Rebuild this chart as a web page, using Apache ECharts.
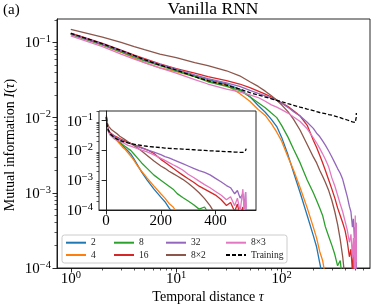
<!DOCTYPE html>
<html><head><meta charset="utf-8">
<script src="https://cdn.jsdelivr.net/npm/echarts@6/dist/echarts.min.js"></script>
<style>html,body{margin:0;padding:0;background:#fff}#c{width:374px;height:308px}</style>
</head><body><div id="c"></div>
<script>
// temporal distance tau (shared sampling)
const tau = [1,2,3,4,5,7,10,15,20,30,40,50,60,70,80,90,100,115,130,150,175,200,215,230,245,260,280,300,320,340,360,380,400,420,440,455,470,480,490,500,505,510,512];

// mutual information I(tau) per model
const mi2 = [0.130,0.094,0.076,0.065,0.058,0.050,0.043,0.036,0.032,0.028,0.024,0.019,0.0145,0.0118,0.0095,0.0076,0.0055,0.0032,0.00186,0.0010,0.00050,0.00027,0.00019,0.000117,0.000076];
const mi4 = [0.128,0.092,0.074,0.062,0.054,0.046,0.041,0.035,0.031,0.027,0.021,0.0165,0.0128,0.0107,0.0083,0.0064,0.0049,0.0030,0.0020,0.00117,0.00063,0.00035,0.00025,0.000166,0.000126,0.000079];
const mi8 = [0.128,0.093,0.075,0.064,0.057,0.049,0.042,0.035,0.030,0.026,0.023,0.019,0.0158,0.0135,0.0115,0.0100,0.0079,0.0055,0.0038,0.0025,0.00148,0.0010,0.00079,0.00063,0.00050,0.000355,0.000263,0.00020,0.000151,0.000107,0.000126,0.000063];
const mi16 = [0.133,0.097,0.079,0.068,0.061,0.052,0.045,0.039,0.035,0.031,0.028,0.025,0.0225,0.0205,0.0188,0.0172,0.0158,0.0140,0.0123,0.0105,0.0079,0.0050,0.0040,0.00316,0.00251,0.0020,0.00148,0.00112,0.00085,0.00063,0.00050,0.00040,0.000316,0.000224,0.000141,0.000178,0.000089,0.000158,0.000063,0.000126,0.00005];
const mi32 = [0.130,0.095,0.077,0.066,0.059,0.051,0.044,0.037,0.033,0.029,0.026,0.023,0.021,0.0195,0.0182,0.0170,0.0155,0.0137,0.0120,0.0105,0.0087,0.0072,0.0062,0.0056,0.0049,0.0043,0.0036,0.0030,0.0025,0.0021,0.00182,0.00151,0.00115,0.00089,0.00066,0.00056,0.00035,0.00045,0.00025,0.00035,0.00013,0.00040,0.00007];
const mi8x2 = [0.149,0.118,0.100,0.088,0.080,0.070,0.063,0.054,0.049,0.042,0.036,0.030,0.026,0.0225,0.0195,0.0170,0.0148,0.0120,0.0095,0.0068,0.0044,0.0030,0.0025,0.0020,0.00166,0.00138,0.00107,0.00079,0.00056,0.00038,0.00024,0.000141,0.00007];
const mi8x3 = [0.122,0.088,0.070,0.060,0.054,0.046,0.039,0.032,0.028,0.024,0.022,0.020,0.0185,0.0165,0.0148,0.0138,0.0128,0.0115,0.0102,0.0089,0.0071,0.0054,0.0046,0.0039,0.0033,0.0028,0.0022,0.00158,0.00123,0.00093,0.00071,0.00056,0.00042,0.00032,0.00022,0.00028,0.00014,0.00025,0.00009,0.00050,0.00008,0.00040,0.00012];
const miTraining = [0.132,0.096,0.078,0.067,0.059,0.050,0.043,0.035,0.031,0.027,0.024,0.0215,0.0200,0.0188,0.0178,0.0169,0.0163,0.0153,0.0146,0.0138,0.0130,0.0124,0.0120,0.0117,0.0115,0.0113,0.0110,0.0108,0.0105,0.0102,0.0100,0.0097,0.0095,0.0093,0.0091,0.0090,0.0088,0.0087,0.0086,0.0086,0.0088,0.0100,0.0115];

const seriesNames = ['2','4','8','16','32','8\u00d72','8\u00d73','Training'];

// tick values
const xMajorTicks = [1,10,100];
const xMinorTicks = [2,3,4,5,6,7,8,9,20,30,40,50,60,70,80,90,200,300,400,500,600];
const yMajorTicks = [1e-4,1e-3,1e-2,1e-1];
const yMinorTicks = [2e-4,3e-4,4e-4,5e-4,6e-4,7e-4,8e-4,9e-4,2e-3,3e-3,4e-3,5e-3,6e-3,7e-3,8e-3,9e-3,2e-2,3e-2,4e-2,5e-2,6e-2,7e-2,8e-2,9e-2,2e-1];
const insetXTicks = [0,200,400];

const FONT = '"Liberation Serif", "DejaVu Serif", serif';
const colors = ['#1f77b4','#ff7f0e','#2ca02c','#d62728','#9467bd','#8c564b','#e377c2','#000000'];
const allVals = [mi2, mi4, mi8, mi16, mi32, mi8x2, mi8x3, miTraining];

function pairs(vals){ return vals.map((v,i)=>[tau[i], v]); }
function powLabel(v){
  const e = Math.round(Math.log10(v));
  return '{b|10}{s|' + (e < 0 ? '\u2212' : '') + Math.abs(e) + '}';
}
const richLab = {
  b: {fontSize: 15, fontFamily: FONT, color: '#000', lineHeight: 17, verticalAlign: 'bottom'},
  s: {fontSize: 10.5, fontFamily: FONT, color: '#000', lineHeight: 11, verticalAlign: 'top'}
};
const AX = '#111';

function majorAxis(extra){
  return Object.assign({
    splitLine: {show: false},
    axisLine: {show: true, lineStyle: {color: AX, width: 0.9}},
    axisTick: {show: true, inside: false, length: 4.5, lineStyle: {color: AX, width: 0.9}},
  }, extra);
}
function minorAxis(extra){
  return Object.assign({
    splitLine: {show: false},
    axisLine: {show: false},
    axisLabel: {show: false},
  }, extra);
}

const xAxis = [
  majorAxis({type: 'log', gridIndex: 0, position: 'bottom', min: 0.74, max: 690,
    axisTick: {show: true, length: 4.5, lineStyle: {color: AX, width: 0.9}, customValues: xMajorTicks},
    axisLabel: {show: true, margin: 2, customValues: xMajorTicks, formatter: powLabel, rich: richLab}}),
  minorAxis({type: 'log', gridIndex: 0, position: 'bottom', min: 0.74, max: 690,
    axisTick: {show: true, length: 2.5, lineStyle: {color: AX, width: 0.7}, customValues: xMinorTicks}}),
  majorAxis({type: 'value', gridIndex: 1, position: 'bottom', min: -26, max: 548, z: 6,
    axisTick: {show: true, length: 4.5, lineStyle: {color: AX, width: 0.9}, customValues: insetXTicks},
    axisLabel: {show: true, margin: 4, customValues: insetXTicks, fontSize: 15, fontFamily: FONT, color: '#000'}})
];
const yAxis = [
  majorAxis({type: 'log', gridIndex: 0, position: 'left', min: 1e-4, max: 0.205,
    axisTick: {show: true, length: 4.5, lineStyle: {color: AX, width: 0.9}, customValues: yMajorTicks},
    axisLabel: {show: true, margin: 6, customValues: yMajorTicks, formatter: powLabel, rich: richLab}}),
  minorAxis({type: 'log', gridIndex: 0, position: 'left', min: 1e-4, max: 0.205,
    axisTick: {show: true, length: 2.5, lineStyle: {color: AX, width: 0.7}, customValues: yMinorTicks}}),
  majorAxis({type: 'log', gridIndex: 1, position: 'left', min: 1e-4, max: 0.21, z: 6,
    axisTick: {show: true, length: 4.5, lineStyle: {color: AX, width: 0.9}, customValues: yMajorTicks},
    axisLabel: {show: true, margin: 6, customValues: yMajorTicks, formatter: powLabel, rich: richLab}}),
  minorAxis({type: 'log', gridIndex: 1, position: 'left', min: 1e-4, max: 0.21, z: 6,
    axisTick: {show: true, length: 2.5, lineStyle: {color: AX, width: 0.7}, customValues: yMinorTicks}})
];

const series = [];
allVals.forEach((vals, k) => {
  const ls = {color: colors[k], width: 1.3, type: k === 7 ? [4, 2] : 'solid'};
  const base = {name: seriesNames[k], type: 'line', showSymbol: false, symbol: 'none',
    lineStyle: ls, itemStyle: {color: colors[k]}, animation: false, clip: true, silent: true,
    emphasis: {disabled: true}};
  series.push(Object.assign({}, base, {xAxisIndex: 0, yAxisIndex: 0, z: 2, data: pairs(vals)}));
  series.push(Object.assign({}, base, {xAxisIndex: 2, yAxisIndex: 2, z: 5, data: pairs(vals)}));
});

function legendCol(names, left){
  return {data: names, orient: 'vertical', left: left, top: 237.7, padding: 0,
    itemWidth: 20, itemHeight: 10, itemGap: 2.3, z: 21, selectedMode: false,
    itemStyle: {opacity: 0, borderWidth: 0},
    textStyle: {fontSize: 9.5, fontFamily: FONT, color: '#222', lineHeight: 10}};
}

const option = {
  animation: false,
  backgroundColor: '#fff',
  textStyle: {fontFamily: FONT},
  grid: [
    {left: 57, top: 19, width: 313, height: 249, show: true, borderColor: AX, borderWidth: 0.9, backgroundColor: 'transparent', z: 0},
    {left: 99, top: 111, width: 157, height: 99, show: true, borderColor: AX, borderWidth: 0.9, backgroundColor: '#ffffff', z: 3}
  ],
  xAxis: xAxis,
  yAxis: yAxis,
  legend: [
    legendCol([seriesNames[0], seriesNames[1]], 65),
    legendCol([seriesNames[2], seriesNames[3]], 113),
    legendCol([seriesNames[4], seriesNames[5]], 165),
    legendCol([seriesNames[6], seriesNames[7]], 225)
  ],
  graphic: [
    {type: 'rect', z: 20, silent: true, shape: {x: 62, y: 235, width: 225, height: 28, r: 2.5},
      style: {fill: 'rgba(255,255,255,0.8)', stroke: '#cccccc', lineWidth: 1}},
    {type: 'text', x: 3, y: 10, z: 20, style: {text: '(a)', fontSize: 15, fontFamily: FONT, fill: '#000', align: 'left', verticalAlign: 'middle'}},
    {type: 'text', x: 213, y: 9, z: 20, style: {text: 'Vanilla RNN', fontSize: 17.5, fontFamily: FONT, fill: '#000', align: 'center', verticalAlign: 'middle'}},
    {type: 'text', x: 208, y: 297, z: 20, style: {text: 'Temporal distance {i|\u03c4}', fontSize: 14, fontFamily: FONT, fill: '#000', align: 'center', verticalAlign: 'middle',
      rich: {i: {fontSize: 14, fontFamily: FONT, fontStyle: 'italic', fill: '#000'}}}},
    {type: 'text', x: 10, y: 145, rotation: Math.PI / 2, z: 20, style: {text: 'Mutual information {i|I}({i|\u03c4})', fontSize: 14, fontFamily: FONT, fill: '#000', align: 'center', verticalAlign: 'middle',
      rich: {i: {fontSize: 14, fontFamily: FONT, fontStyle: 'italic', fill: '#000'}}}}
  ],
  series: series
};

const chart = echarts.init(document.getElementById('c'), null, {renderer: 'canvas', width: 374, height: 308});
chart.setOption(option);
</script>
</body></html>
